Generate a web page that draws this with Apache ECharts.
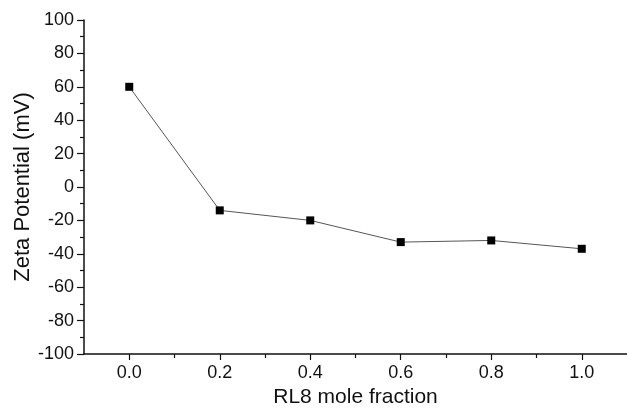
<!DOCTYPE html>
<html>
<head>
<meta charset="utf-8">
<script src="https://cdn.jsdelivr.net/npm/echarts@6/dist/echarts.min.js"></script>
<style>
  html, body { margin: 0; padding: 0; background: #fff; }
  #chart { width: 627px; height: 409px; }
</style>
</head>
<body>
<div id="chart"></div>
<script>
const fractions = [0.0, 0.2, 0.4, 0.6, 0.8, 1.0];
const zeta = [60, -14, -20, -33, -32, -37];
const xMajorTicks = [0.0, 0.2, 0.4, 0.6, 0.8, 1.0];
const xMinorTicks = [0.1, 0.3, 0.5, 0.7, 0.9];

const font = "Liberation Sans, Arial, sans-serif";
const chart = echarts.init(document.getElementById("chart"));

const option = {
  animation: false,
  grid: { left: 84, right: 0, top: 20, bottom: 55, outerBoundsMode: "none" },
  xAxis: [
    {
      type: "value",
      min: -0.1,
      max: 1.1,
      name: "RL8 mole fraction",
      nameLocation: "middle",
      nameGap: 33,
      nameTextStyle: { fontFamily: font, fontSize: 21, color: "#111" },
      axisLine: { show: true, onZero: false, lineStyle: { color: "#111", width: 1.5 } },
      axisTick: {
        show: true,
        length: 6,
        customValues: xMajorTicks,
        lineStyle: { color: "#111", width: 1.2 }
      },
      axisLabel: {
        customValues: xMajorTicks,
        margin: 10,
        fontFamily: font,
        fontSize: 18,
        color: "#111",
        formatter: v => v.toFixed(1)
      },
      splitLine: { show: false }
    },
    {
      type: "value",
      position: "bottom",
      min: -0.1,
      max: 1.1,
      axisLine: { show: false, onZero: false },
      axisTick: {
        show: true,
        length: 4,
        customValues: xMinorTicks,
        lineStyle: { color: "#111", width: 1.2 }
      },
      axisLabel: { show: false },
      splitLine: { show: false }
    }
  ],
  yAxis: {
    type: "value",
    min: -100,
    max: 100,
    interval: 20,
    name: "Zeta Potential (mV)",
    nameLocation: "middle",
    nameGap: 50,
    nameMoveOverlap: false,
    nameTextStyle: { fontFamily: font, fontSize: 22, color: "#111" },
    axisLine: { show: true, onZero: false, lineStyle: { color: "#111", width: 1.5 } },
    axisTick: { show: true, length: 7, lineStyle: { color: "#111", width: 1.2 } },
    minorTick: { show: true, splitNumber: 2, length: 4, lineStyle: { color: "#111", width: 1.2 } },
    axisLabel: { margin: 10, fontFamily: font, fontSize: 18, color: "#111" },
    splitLine: { show: false }
  },
  series: [
    {
      type: "line",
      xAxisIndex: 0,
      data: fractions.map((x, i) => [x, zeta[i]]),
      symbol: "rect",
      symbolSize: 8,
      itemStyle: { color: "#000" },
      lineStyle: { color: "#555", width: 1 }
    }
  ]
};

chart.setOption(option);
</script>
</body>
</html>
